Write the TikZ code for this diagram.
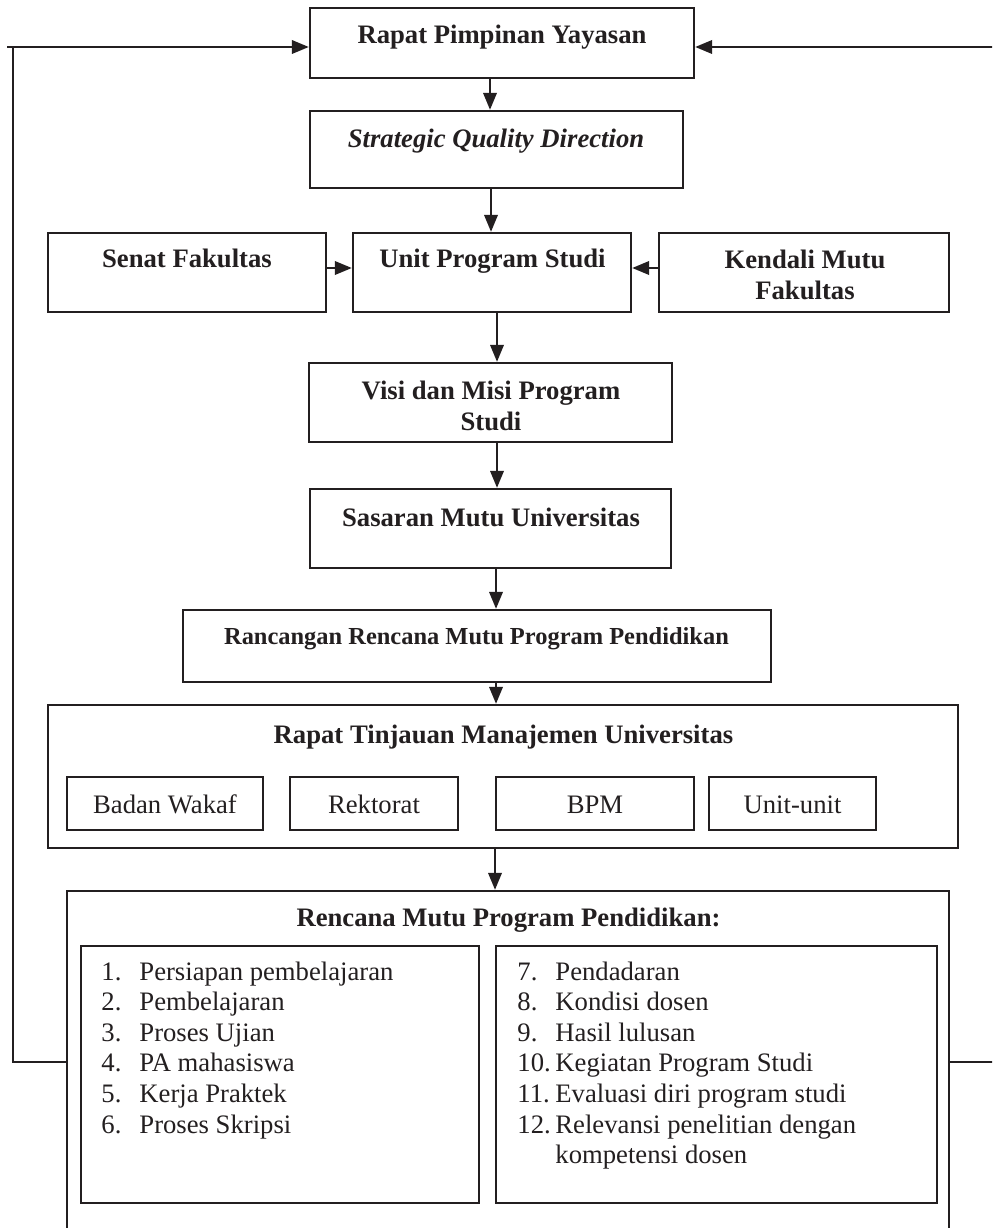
\documentclass[tikz,border=0pt]{standalone}
\usepackage{fontspec}
\setmainfont{Liberation Serif}
\usetikzlibrary{arrows.meta,calc}
\definecolor{ink}{RGB}{35,31,32}
\begin{document}
\begin{tikzpicture}[x=0.45pt,y=-0.45pt,
  bx/.style 2 args={draw=ink, line width=1.05pt, inner sep=0pt, minimum width=#1*0.45pt, minimum height=#2*0.45pt},
  hd/.style={anchor=base, inner sep=0pt, text=ink, font=\fontsize{12}{13.8}\selectfont\bfseries, align=center},
  tx/.style={anchor=base, inner sep=0pt, text=ink, font=\fontsize{12}{13.8}\selectfont},
  lst/.style={anchor=base west, inner sep=0pt, text=ink, font=\fontsize{12}{13.77}\selectfont},
  arr/.style={draw=ink, line width=1.05pt, -{Triangle[length=7.6pt,width=6pt]}},
  ln/.style={draw=ink, line width=1.05pt}]
\useasboundingbox (0,0) rectangle (992,1228);
\clip (0,0) rectangle (992,1228);
\fill[white] (0,0) rectangle (992,1228);

% boxes
\node[bx={384}{70}] (rpy) at (502,43) {};
\node[hd] (trpy) at (502,44) {Rapat Pimpinan Yayasan};
\node[bx={373}{77}] (sqd) at (496.5,149.5) {};
\node[hd, font=\fontsize{12}{13.8}\selectfont\bfseries\itshape] (tsqd) at (496,148) {Strategic Quality Direction};

\node[bx={278}{79}] (senat) at (187,272.5) {};
\node[hd] (tsenat) at (187,268) {Senat Fakultas};
\node[bx={278}{79}] (ups) at (492,272.5) {};
\node[hd] (tups) at (492.5,268) {Unit Program Studi};
\node[bx={290}{79}] (kmf) at (804,272.5) {};
\node[hd] (tkmf) at (805,299) {Kendali Mutu\\Fakultas};

\node[bx={363}{79}] (visi) at (490.5,402.5) {};
\node[hd] (tvisi) at (491,430) {Visi dan Misi Program\\Studi};
\node[bx={361}{79}] (sas) at (490.5,528.5) {};
\node[hd] (tsas) at (491,526) {Sasaran Mutu Universitas};
\node[bx={588}{72}] (ranc) at (477,646) {};
\node[hd, font=\fontsize{11}{13}\selectfont\bfseries] (tranc) at (476.5,644) {Rancangan Rencana Mutu Program Pendidikan};

\node[bx={910}{143}] (rtmu) at (503,776.5) {};
\node[hd] (trtmu) at (503.5,743) {Rapat Tinjauan Manajemen Universitas};
\node[bx={196}{53}] (bw) at (165,803.5) {};
\node[tx] (tbw) at (165,813) {Badan Wakaf};
\node[bx={168}{53}] (rek) at (374,803.5) {};
\node[tx] (trek) at (374,813) {Rektorat};
\node[bx={198}{53}] (bpm) at (595,803.5) {};
\node[tx] (tbpm) at (595,813) {BPM};
\node[bx={167}{53}] (uu) at (792.5,803.5) {};
\node[tx] (tuu) at (792.5,813) {Unit-unit};

\node[bx={882}{369}] (rmpp) at (508,1075.5) {};
\node[hd] (trmpp) at (508.5,926) {Rencana Mutu Program Pendidikan:};
\node[bx={398}{257}] (lbox) at (280,1074.5) {};
\node[bx={441}{257}] (rbox) at (716.5,1074.5) {};
\node[lst] (llist) at (101,980) {\begin{tabular}[t]{@{}p{17.1pt}@{}l@{}}
1. & Persiapan pembelajaran\\
2. & Pembelajaran\\
3. & Proses Ujian\\
4. & PA mahasiswa\\
5. & Kerja Praktek\\
6. & Proses Skripsi
\end{tabular}};
\node[lst] (rlist) at (517,980) {\begin{tabular}[t]{@{}p{17.1pt}@{}l@{}}
7. & Pendadaran\\
8. & Kondisi dosen\\
9. & Hasil lulusan\\
10. & Kegiatan Program Studi\\
11. & Evaluasi diri program studi\\
12. & Relevansi penelitian dengan\\
 & kompetensi dosen
\end{tabular}};

% vertical connectors
\draw[arr] ($(rpy.south)+(-12,0)$) coordinate (a1) -- (a1 |- sqd.north);
\draw[arr] ($(sqd.south)+(-5.5,0)$) coordinate (a2) -- (a2 |- ups.north);
\draw[arr] ($(senat.east)+(0,-4.5)$) coordinate (a3) -- (a3 -| ups.west);
\draw[arr] ($(kmf.west)+(0,-4.5)$) coordinate (a4) -- (a4 -| ups.east);
\draw[arr] ($(ups.south)+(5,0)$) coordinate (a5) -- (a5 |- visi.north);
\draw[arr] ($(visi.south)+(6.5,0)$) coordinate (a6) -- (a6 |- sas.north);
\draw[arr] ($(sas.south)+(5.5,0)$) coordinate (a7) -- (a7 |- ranc.north);
\draw[arr] ($(ranc.south)+(19,0)$) coordinate (a8) -- (a8 |- rtmu.north);
\draw[arr] ($(rtmu.south)+(-8,0)$) coordinate (a9) -- (a9 |- rmpp.north);

% feedback loops
\coordinate (lb) at (13,1062);
\coordinate (lt) at (13,47);
\coordinate (rb) at (996,1062);
\coordinate (rt) at (996,47);
\draw[arr] (lb -| rmpp.west) -- (lb) -- (lt) -- (lt -| rpy.west);
\draw[ln] (lt) -- ++(-6,0);
\draw[arr] (rb -| rmpp.east) -- (rb) -- (rt) -- (rt -| rpy.east);
\end{tikzpicture}
\end{document}
